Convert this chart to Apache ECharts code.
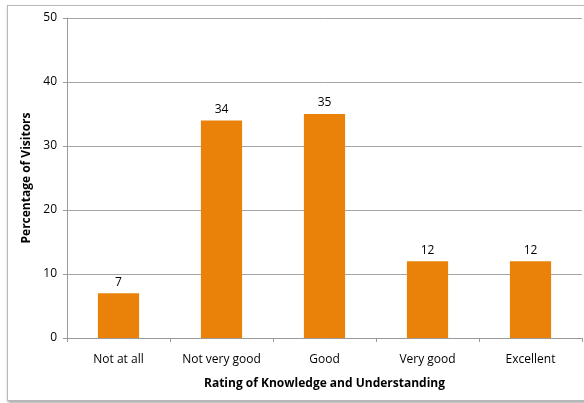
<!DOCTYPE html>
<html>
<head>
<meta charset="utf-8">
<script src="https://cdn.jsdelivr.net/npm/echarts@6/dist/echarts.min.js"></script>
<style>
  html, body { margin: 0; padding: 0; background: #fff; overflow: hidden; }
  #frame {
    position: absolute; left: 7px; top: 5px; width: 620px; height: 394px;
    border: 1px solid #b8b8b8; box-shadow: 1px 2px 3px rgba(0,0,0,0.35);
    background: #fff;
  }
  #chart { position: absolute; left: 0; top: 0; width: 584px; height: 403px; }
</style>
</head>
<body>
<div id="frame"></div>
<div id="chart"></div>
<script>
const categories = ['Not at all', 'Not very good', 'Good', 'Very good', 'Excellent'];
const percentages = [7, 34, 35, 12, 12];
const yTicks = { min: 0, max: 50, interval: 10 };

const font = '"Open Sans", "Liberation Sans", sans-serif';
const chart = echarts.init(document.getElementById('chart'), null, { renderer: 'canvas' });
chart.setOption({
  animation: false,
  grid: { left: 67, top: 18, right: 2, bottom: 65, containLabel: false },
  xAxis: {
    type: 'category',
    data: categories,
    name: 'Rating of Knowledge and Understanding',
    nameLocation: 'middle',
    nameGap: 40,
    nameTextStyle: { fontFamily: font, fontSize: 12, fontWeight: 'bold', color: '#000' },
    axisLine: { lineStyle: { color: '#9a9a9a', width: 1 } },
    axisTick: { show: true, length: 4, lineStyle: { color: '#9a9a9a' } },
    axisLabel: { fontFamily: font, fontSize: 12, color: '#000', margin: 16 }
  },
  yAxis: {
    type: 'value',
    min: yTicks.min, max: yTicks.max, interval: yTicks.interval,
    name: 'Percentage of Visitors',
    nameLocation: 'middle',
    nameGap: 30,
    nameTextStyle: { fontFamily: font, fontSize: 12, fontWeight: 'bold', color: '#000' },
    axisLine: { show: true, lineStyle: { color: '#9a9a9a', width: 1 } },
    axisTick: { show: true, length: 4, lineStyle: { color: '#9a9a9a' } },
    axisLabel: { fontFamily: font, fontSize: 12, color: '#000', margin: 10 },
    splitLine: { lineStyle: { color: '#a6a6a6', width: 1 } }
  },
  series: [{
    type: 'bar',
    data: percentages,
    barWidth: '40%',
    itemStyle: { color: '#EA8209' },
    label: {
      show: true, position: 'top', distance: 5,
      fontFamily: font, fontSize: 12, color: '#000'
    }
  }]
});
</script>
</body>
</html>
